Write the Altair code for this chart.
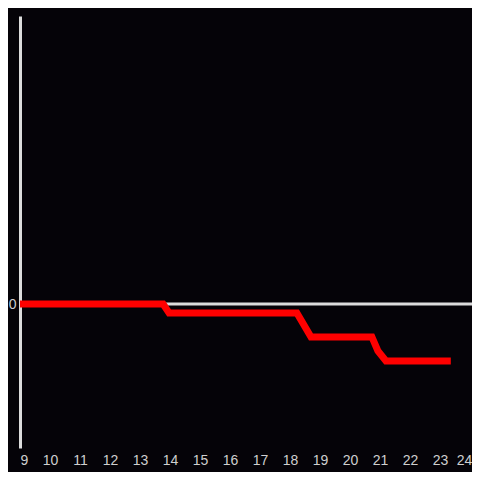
import altair as alt
import pandas as pd

x_vals = [9, 13.77, 13.97, 18.23, 18.7, 20.73, 20.93, 21.2, 23.36]
y_vals = [0, 0, -0.0625, -0.0625, -0.229, -0.229, -0.326, -0.396, -0.396]
x_ticks = list(range(9, 25))
y_ticks = [0]

df = pd.DataFrame({"x": x_vals, "y": y_vals})
zero = pd.DataFrame({"y": [0]})

xscale = alt.Scale(domain=[9, 24.0667], nice=False, zero=False)
yscale = alt.Scale(domain=[-1, 2], nice=False)

label_color = "#cfcfcf"
axis_color = "#dcdcdc"
font = "Liberation Sans"

yaxis = alt.Axis(values=y_ticks, title=None, grid=False, ticks=False, domain=True,
                 domainColor=axis_color, domainWidth=3, labelColor=label_color,
                 labelFontSize=14, labelFont=font, labelPadding=4)
xaxis = alt.Axis(values=x_ticks, title=None, grid=False, ticks=False, domain=False,
                 labelColor=label_color, labelFontSize=14, labelFont=font,
                 labelPadding=5, orient="bottom", format="d",
                 labelOffset={"condition": {"test": "datum.value >= 24", "value": -6}, "value": 0})

rule = alt.Chart(zero).mark_rule(color=axis_color, strokeWidth=3).encode(
    y=alt.Y("y:Q", scale=yscale, axis=yaxis)
)
line = alt.Chart(df).mark_line(color="#ff0000", strokeWidth=7, strokeCap="butt").encode(
    x=alt.X("x:Q", scale=xscale, axis=xaxis),
    y=alt.Y("y:Q", scale=yscale, axis=yaxis),
    order=alt.Order("x:Q"),
)

chart = alt.layer(rule, line).properties(
    width=452, height=432,
    autosize=alt.AutoSizeParams(type="none"),
    padding={"left": 12, "top": 8, "right": 0, "bottom": 24},
    background="#050308",
).configure_view(stroke=None)

chart.save("out.html", embed_options={"renderer": "svg", "actions": False})
